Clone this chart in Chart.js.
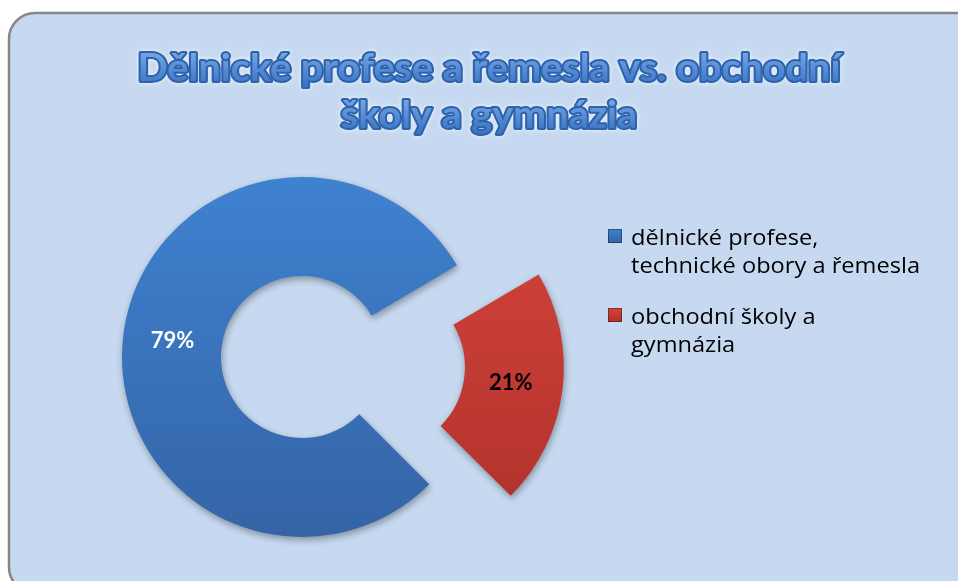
<!DOCTYPE html>
<html>
<head>
<meta charset="utf-8">
<script src="https://cdn.jsdelivr.net/npm/chart.js@4"></script>
<style>
  html, body { margin: 0; padding: 0; background: #ffffff; }
  #wrap { width: 958px; height: 581px; }
</style>
</head>
<body>
<div id="wrap"><canvas id="chart" width="958" height="581"></canvas></div>
<script>
const titleLines = ['Dělnické profese a řemesla vs. obchodní', 'školy a gymnázia'];
const categories = [['dělnické profese,', 'technické obory a řemesla'], ['obchodní školy a', 'gymnázia']];
const shares = [79, 21];
const topColors = ['#3f82d0', '#d4453e'];
const bottomColors = ['#3464a6', '#b0302a'];
const labelColors = ['#ffffff', '#000000'];
const explode = [0, 320];

// panel background with rounded border
const panel = {
  id: 'panel',
  beforeDraw(chart) {
    const c = chart.ctx;
    c.save();
    c.fillStyle = '#c6d9f0';
    c.strokeStyle = '#878787';
    c.lineWidth = 2.5;
    c.beginPath();
    c.roundRect(9, 13, 975, 580, 26);
    c.fill();
    c.stroke();
    c.restore();
  }
};

const shadow = {
  id: 'shadow',
  beforeDatasetsDraw(chart) {
    const c = chart.ctx;
    c.save();
    c.shadowColor = 'rgba(0,0,0,0.35)';
    c.shadowBlur = 7;
    c.shadowOffsetX = 1;
    c.shadowOffsetY = 3;
  },
  afterDatasetsDraw(chart) {
    chart.ctx.restore();
  }
};

// title with outline and glow
const fancyTitle = {
  id: 'fancyTitle',
  afterDraw(chart) {
    const c = chart.ctx;
    c.save();
    c.font = 'bold 38px Lato';
    c.textAlign = 'center';
    c.textBaseline = 'alphabetic';
    const w = c.measureText(titleLines[0]).width;
    const sx = 703 / w;
    const baselines = [81, 128];
    titleLines.forEach((line, i) => {
      c.save();
      c.translate(489, baselines[i]);
      c.scale(sx, 1);
      const g = c.createLinearGradient(0, -28, 0, 4);
      g.addColorStop(0, '#74a6e4');
      g.addColorStop(1, '#3b74c4');
      c.shadowColor = 'rgba(255,255,255,0.8)';
      c.shadowBlur = 5;
      c.lineJoin = 'round';
      c.lineWidth = 4;
      c.strokeStyle = '#2d62ad';
      c.strokeText(line, 0, 0);
      c.shadowColor = 'transparent';
      c.fillStyle = g;
      c.fillText(line, 0, 0);
      c.restore();
    });
    c.restore();
  }
};

// legend on the right
const sideLegend = {
  id: 'sideLegend',
  afterDraw(chart) {
    const c = chart.ctx;
    c.save();
    c.font = '21px "Open Sans"';
    c.textBaseline = 'alphabetic';
    const sx = 289 / c.measureText(categories[0][1]).width;
    const tops = [245, 324];
    chart.data.labels.forEach((lines, i) => {
      const y = tops[i];
      const g = c.createLinearGradient(0, y - 16, 0, y - 2);
      g.addColorStop(0, topColors[i]);
      g.addColorStop(1, bottomColors[i]);
      c.fillStyle = g;
      c.fillRect(608, y - 16, 14, 14);
      c.strokeStyle = 'rgba(0,0,0,0.35)';
      c.lineWidth = 1;
      c.strokeRect(608.5, y - 15.5, 13, 13);
      c.fillStyle = '#000000';
      lines.forEach((t, j) => {
        c.save();
        c.translate(631, y + j * 28);
        c.scale(sx, 1);
        c.fillText(t, 0, 0);
        c.restore();
      });
    });
    c.restore();
  }
};

// percentage labels in the middle of each ring piece
const pctLabels = {
  id: 'pctLabels',
  afterDatasetsDraw(chart) {
    const c = chart.ctx;
    const meta = chart.getDatasetMeta(0);
    const total = shares.reduce((a, b) => a + b, 0);
    c.save();
    c.font = 'bold 22px Lato';
    c.textAlign = 'center';
    c.textBaseline = 'middle';
    meta.data.forEach((arc, i) => {
      const p = arc.getProps(['x', 'y', 'startAngle', 'endAngle', 'innerRadius', 'outerRadius'], true);
      const mid = (p.startAngle + p.endAngle) / 2;
      const r = (p.innerRadius + p.outerRadius) / 2 + (arc.options.offset || 0) / 4;
      c.fillStyle = labelColors[i];
      c.fillText(Math.round(shares[i] / total * 100) + '%', p.x + Math.cos(mid) * r, p.y + Math.sin(mid) * r);
    });
    c.restore();
  }
};

function ringFill(ctx) {
  const i = ctx.dataIndex;
  if (!ctx.chart.chartArea) return topColors[i];
  const g = ctx.chart.ctx.createLinearGradient(0, 177, 0, 537);
  g.addColorStop(0, topColors[i]);
  g.addColorStop(1, bottomColors[i]);
  return g;
}

const ctx = document.getElementById('chart').getContext('2d');
const chart = new Chart(ctx, {
  type: 'doughnut',
  data: {
    labels: categories,
    datasets: [{
      data: shares,
      backgroundColor: ringFill,
      borderWidth: 0,
      offset: explode,
      hoverOffset: 0,
      clip: false
    }]
  },
  options: {
    responsive: false,
    animation: false,
    events: [],
    rotation: 135,
    cutout: '45%',
    radius: 180,
    layout: { padding: { left: 0, right: 354, top: 133, bottom: 0 } },
    plugins: {
      legend: { display: false },
      title: { display: false },
      tooltip: { enabled: false }
    }
  },
  plugins: [panel, shadow, pctLabels, fancyTitle, sideLegend]
});
</script>
</body>
</html>
